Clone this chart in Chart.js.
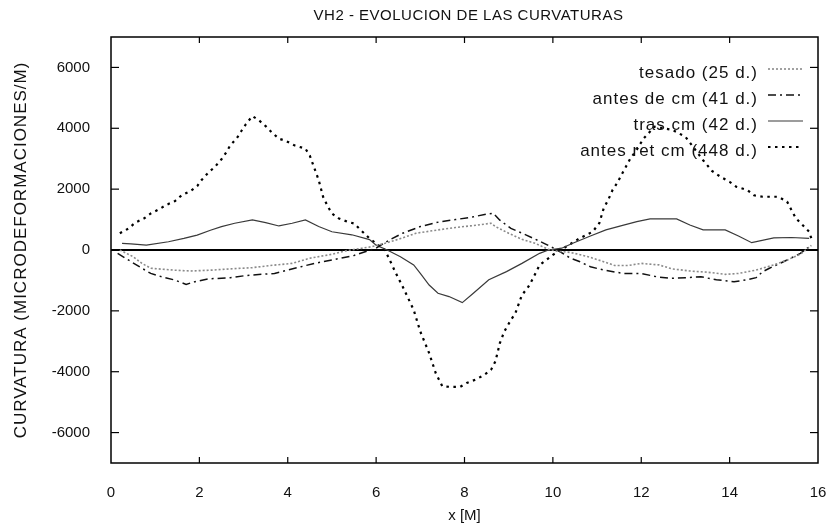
<!DOCTYPE html>
<html>
<head>
<meta charset="utf-8">
<title>VH2 - EVOLUCION DE LAS CURVATURAS</title>
<script src="https://cdn.jsdelivr.net/npm/chart.js@4.4.0/dist/chart.umd.min.js"></script>
<style>
    html, body { margin: 0; padding: 0; background: #fff; }
    #wrap { width: 832px; height: 528px; }
</style>
</head>
<body>
<div id="wrap"><canvas id="curvChart" width="832" height="528"></canvas></div>
<script>
// Datos (x en metros, curvatura en microdeformaciones/m)
const xTesado = [0.2, 0.5, 0.7, 0.9, 1.4, 1.8, 2.3, 2.7, 3.2, 3.6, 4.1, 4.5, 5.0, 5.3, 5.9, 6.2, 6.5, 6.9, 7.4, 7.8, 8.3, 8.6, 8.7, 9.0, 9.3, 9.6, 9.9, 10.1, 10.4, 10.8, 11.1, 11.4, 11.7, 12.0, 12.4, 12.7, 13.1, 13.5, 13.9, 14.2, 14.6, 15.0, 15.3, 15.6, 15.85];
const yTesado = [0, -220, -440, -600, -660, -690, -660, -620, -580, -510, -440, -270, -140, -30, 110, 220, 350, 550, 660, 740, 820, 880, 770, 550, 350, 220, 20, -40, -80, -220, -360, -510, -510, -440, -490, -620, -690, -730, -800, -770, -660, -490, -330, -140, 150];

const xAntesCm = [0.15, 0.45, 0.7, 0.9, 1.15, 1.45, 1.7, 1.9, 2.2, 2.7, 3.05, 3.4, 3.7, 4.0, 4.3, 4.6, 5.0, 5.5, 6.0, 6.3, 6.6, 7.0, 7.45, 7.8, 8.2, 8.5, 8.65, 8.8, 9.05, 9.4, 9.8, 10.1, 10.4, 10.6, 10.85, 11.15, 11.6, 12.0, 12.35, 12.65, 13.0, 13.35, 13.7, 14.1, 14.4, 14.6, 14.75, 14.9, 15.3, 15.6, 15.85];
const yAntesCm = [-110, -380, -600, -770, -880, -990, -1130, -1040, -950, -910, -840, -800, -770, -660, -550, -440, -330, -180, 60, 330, 550, 770, 930, 1000, 1090, 1180, 1210, 980, 710, 490, 220, 0, -270, -380, -550, -660, -770, -770, -880, -930, -910, -880, -980, -1040, -980, -910, -710, -600, -330, -110, 160];

const xTrasCm = [0.25, 0.45, 0.8, 1.3, 1.65, 1.95, 2.25, 2.5, 2.8, 3.2, 3.5, 3.8, 4.1, 4.4, 4.7, 5.0, 5.45, 5.85, 6.0, 6.25, 6.55, 6.85, 7.0, 7.2, 7.4, 7.65, 7.95, 8.2, 8.55, 8.95, 9.3, 9.7, 9.9, 10.2, 10.45, 10.85, 11.2, 11.6, 11.9, 12.2, 12.8, 13.1, 13.4, 13.9, 14.2, 14.5, 15.0, 15.4, 15.8];
const yTrasCm = [220, 200, 160, 270, 380, 490, 650, 770, 880, 990, 900, 790, 880, 990, 770, 600, 500, 340, 160, 0, -220, -490, -770, -1150, -1420, -1530, -1730, -1420, -980, -710, -440, -110, 0, 60, 220, 460, 660, 820, 930, 1020, 1020, 820, 660, 660, 460, 240, 400, 410, 380];

const xAntesRet = [0.2, 0.4, 0.55, 0.75, 0.9, 1.1, 1.25, 1.45, 1.6, 1.8, 1.95, 2.05, 2.2, 2.35, 2.5, 2.6, 2.7, 2.85, 2.95, 3.05, 3.2, 3.35, 3.5, 3.65, 3.8, 3.95, 4.15, 4.4, 4.5, 4.6, 4.7, 4.8, 4.9, 5.0, 5.15, 5.35, 5.5, 5.65, 5.85, 6.05, 6.2, 6.45, 6.6, 6.85, 7.0, 7.2, 7.35, 7.5, 7.7, 7.9, 8.05, 8.25, 8.45, 8.6, 8.7, 8.8, 8.9, 9.05, 9.15, 9.3, 9.45, 9.55, 9.7, 9.85, 10.0, 10.3, 10.6, 10.9, 11.05, 11.15, 11.25, 11.35, 11.45, 11.55, 11.65, 11.75, 11.9, 12.05, 12.3, 12.7, 13.0, 13.4, 13.6, 13.8, 14.0, 14.15, 14.4, 14.55, 14.75, 15.1, 15.3, 15.4, 15.5, 15.65, 15.8, 15.85];
const yAntesRet = [550, 710, 900, 1040, 1200, 1350, 1480, 1610, 1800, 1940, 2100, 2300, 2540, 2730, 2980, 3190, 3440, 3680, 3910, 4130, 4400, 4260, 4070, 3850, 3660, 3590, 3440, 3330, 3100, 2700, 2300, 1750, 1450, 1200, 1040, 930, 870, 660, 380, 160, 0, -770, -1200, -1970, -2680, -3390, -4050, -4480, -4500, -4500, -4370, -4260, -4100, -3940, -3660, -3060, -2680, -2300, -2080, -1480, -1200, -930, -490, -330, -160, 110, 380, 600, 880, 1370, 1640, 1970, 2190, 2460, 2730, 3000, 3300, 3660, 4050, 3950, 3720, 2950, 2600, 2400, 2240, 2080, 1970, 1800, 1750, 1750, 1590, 1310, 1040, 820, 600, 380];

const seriesLabels = ['tesado (25 d.)', 'antes de cm (41 d.)', 'tras cm (42 d.)', 'antes ret cm (448 d.)'];
const xTickValues = [0, 2, 4, 6, 8, 10, 12, 14, 16];
const yTickValues = [-6000, -4000, -2000, 0, 2000, 4000, 6000];

const FONT = '"Liberation Sans", Arial, Helvetica, sans-serif';

function toPoints(xs, ys) {
    return xs.map((x, i) => ({ x: x, y: ys[i] }));
}

// Títulos (el escaneo tiene las letras algo espaciadas)
const titlePlugin = {
    id: 'titulos',
    afterDraw(chart) {
        const { ctx, chartArea } = chart;
        ctx.save();
        ctx.fillStyle = '#111';
        ctx.textAlign = 'center';
        ctx.textBaseline = 'middle';
        ctx.font = '15px ' + FONT;
        ctx.letterSpacing = '0.5px';
        ctx.fillText('VH2 - EVOLUCION DE LAS CURVATURAS', (chartArea.left + chartArea.right) / 2 + 4, 16);
        ctx.translate(21, (chartArea.top + chartArea.bottom) / 2);
        ctx.rotate(-Math.PI / 2);
        ctx.font = '17px ' + FONT;
        ctx.letterSpacing = '1px';
        ctx.fillText('CURVATURA (MICRODEFORMACIONES/M)', 0, 0);
        ctx.restore();
    }
};

// Marco y marcas interiores (estilo gnuplot)
const framePlugin = {
    id: 'marco',
    afterDraw(chart) {
        const { ctx, chartArea: a, scales } = chart;
        ctx.save();
        ctx.strokeStyle = '#000';
        ctx.lineWidth = 1.5;
        ctx.strokeRect(a.left, a.top, a.right - a.left, a.bottom - a.top);
        ctx.lineWidth = 1.2;
        const seg = (x1, y1, x2, y2) => { ctx.beginPath(); ctx.moveTo(x1, y1); ctx.lineTo(x2, y2); ctx.stroke(); };
        yTickValues.forEach(v => {
            const py = scales.y.getPixelForValue(v);
            seg(a.left, py, a.left + 8, py);
            seg(a.right - 8, py, a.right, py);
        });
        xTickValues.slice(1, -1).forEach(v => {
            const px = scales.x.getPixelForValue(v);
            seg(px, a.bottom, px, a.bottom - 6);
            seg(px, a.top, px, a.top + 6);
        });
        ctx.restore();
    }
};

// Leyenda: texto alineado a la derecha, muestra de línea a la derecha
const legendPlugin = {
    id: 'leyenda',
    afterDatasetsDraw(chart) {
        const ctx = chart.ctx;
        ctx.save();
        ctx.font = '17px ' + FONT;
        ctx.letterSpacing = '1px';
        ctx.textAlign = 'right';
        ctx.textBaseline = 'middle';
        chart.data.datasets.forEach((ds, i) => {
            const y = 73 + i * 26;
            ctx.fillStyle = '#111';
            ctx.fillText(ds.label, 758, y);
            ctx.strokeStyle = ds.borderColor;
            ctx.lineWidth = ds.borderWidth;
            ctx.setLineDash(ds.borderDash || []);
            ctx.beginPath();
            ctx.moveTo(768, y - 4);
            ctx.lineTo(803, y - 4);
            ctx.stroke();
        });
        ctx.restore();
    }
};

const ctx = document.getElementById('curvChart').getContext('2d');

new Chart(ctx, {
    type: 'line',
    data: {
        datasets: [{
            label: seriesLabels[0],
            data: toPoints(xTesado, yTesado),
            borderColor: '#8a8a8a',
            borderWidth: 1.6,
            borderDash: [2, 2]
        }, {
            label: seriesLabels[1],
            data: toPoints(xAntesCm, yAntesCm),
            borderColor: '#111',
            borderWidth: 1.5,
            borderDash: [8, 4, 2, 4]
        }, {
            label: seriesLabels[2],
            data: toPoints(xTrasCm, yTrasCm),
            borderColor: '#3a3a3a',
            borderWidth: 1.2,
            borderDash: []
        }, {
            label: seriesLabels[3],
            data: toPoints(xAntesRet, yAntesRet),
            borderColor: '#000',
            borderWidth: 2.2,
            borderDash: [2.5, 4.5]
        }]
    },
    options: {
        responsive: false,
        animation: false,
        layout: { padding: { top: 37, right: 14, left: 0, bottom: 0 } },
        elements: {
            point: { radius: 0 },
            line: { tension: 0, fill: false }
        },
        plugins: {
            legend: { display: false },
            title: { display: false },
            tooltip: { enabled: false }
        },
        scales: {
            x: {
                type: 'linear',
                min: 0,
                max: 16,
                afterBuildTicks: s => { s.ticks = xTickValues.map(v => ({ value: v })); },
                afterFit: s => { s.height = 65; },
                ticks: {
                    color: '#111',
                    font: { family: FONT, size: 15 },
                    padding: 1,
                    maxRotation: 0,
                    callback: v => String(v)
                },
                grid: {
                    display: true,
                    drawOnChartArea: false,
                    drawTicks: true,
                    tickLength: 20,
                    tickColor: 'rgba(0,0,0,0)'
                },
                border: { display: false },
                title: {
                    display: true,
                    text: 'x [M]',
                    color: '#111',
                    font: { family: FONT, size: 15 },
                    padding: { top: 0, bottom: 3 }
                }
            },
            y: {
                type: 'linear',
                min: -7000,
                max: 7000,
                afterBuildTicks: s => { s.ticks = yTickValues.map(v => ({ value: v })); },
                afterFit: s => { s.width = 111; },
                ticks: {
                    color: '#111',
                    font: { family: FONT, size: 15 },
                    padding: 1,
                    callback: v => String(v)
                },
                grid: {
                    drawTicks: true,
                    tickLength: 20,
                    tickColor: 'rgba(0,0,0,0)',
                    color: c => (c.tick && c.tick.value === 0) ? '#000' : 'rgba(0,0,0,0)',
                    lineWidth: c => (c.tick && c.tick.value === 0) ? 2 : 0
                },
                border: { display: false },
                title: { display: false }
            }
        }
    },
    plugins: [titlePlugin, framePlugin, legendPlugin]
});
</script>
</body>
</html>
